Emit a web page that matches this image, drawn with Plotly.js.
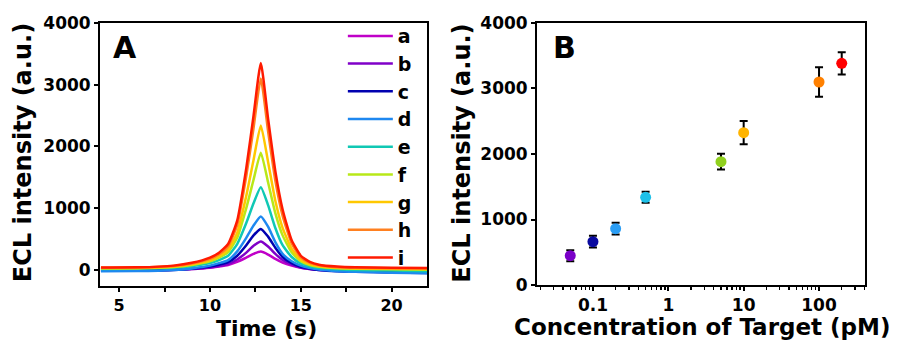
<!DOCTYPE html>
<html><head><meta charset="utf-8">
<script src="https://cdn.plot.ly/plotly-3.0.1.min.js"></script>
<style>html,body{margin:0;padding:0;background:#fff}#chart{width:907px;height:341px}</style>
</head><body><div id="chart"></div>
<script>
// Panel A: ECL-time curves
const time = [4, 6, 8, 9, 10, 10.5, 11, 11.5, 12, 12.4, 12.8, 13.2, 13.6, 14, 14.5, 15, 15.5, 16, 17, 18, 20, 22];
const curveLabels = ['a','b','c','d','e','f','g','h','i'];
const curveA = [-5, -5, 5, 15, 35, 55, 80, 130, 200, 260, 297, 250, 180, 120, 70, 35, 15, 5, -10, -20, -30, -40];
const curveB = [-10, -8, 2, 15, 40, 65, 95, 170, 280, 390, 460, 380, 260, 160, 85, 40, 15, 0, -15, -25, -35, -45];
const curveC = [-15, -12, 0, 20, 55, 85, 125, 230, 400, 560, 665, 540, 360, 210, 110, 50, 20, 0, -20, -30, -40, -50];
const curveD = [-20, -18, 0, 25, 70, 110, 160, 300, 520, 720, 865, 700, 450, 260, 140, 70, 30, 5, -20, -30, -45, -55];
const curveE = [15, 18, 35, 60, 110, 160, 230, 420, 760, 1080, 1340, 1050, 680, 400, 210, 105, 55, 30, 10, 0, -10, -20];
const curveF = [25, 28, 48, 80, 140, 200, 290, 520, 1000, 1460, 1900, 1420, 920, 560, 285, 140, 80, 50, 28, 18, 10, 5];
const curveG = [30, 33, 55, 90, 160, 225, 330, 600, 1200, 1780, 2340, 1750, 1120, 680, 340, 165, 95, 60, 35, 25, 18, 15];
const curveH = [35, 38, 62, 105, 180, 255, 380, 730, 1520, 2300, 3100, 2250, 1450, 880, 430, 205, 115, 75, 45, 35, 28, 25];
const curveI = [40, 42, 70, 115, 200, 280, 420, 800, 1650, 2500, 3350, 2450, 1600, 980, 480, 230, 130, 85, 55, 42, 35, 32];
const curveColors = ['#c000c8','#8000c8','#0000b0','#1e88f0','#10c8b4','#b8e818','#ffc800','#ff8020','#ff1a00'];

// Panel B: calibration points
const concentration = [0.05, 0.1, 0.2, 0.5, 5, 10, 100, 200];
const intensity = [447, 661, 860, 1339, 1883, 2325, 3099, 3384];
const intensityErr = [85, 90, 90, 85, 120, 178, 225, 170];
const pointColors = ['#7a00c8','#0a0aa0','#2a9df4','#1ec0e8','#90d01e','#ffb400','#ff8000','#ff0000'];
const xTickVals = [0.1, 1, 10, 100];
const xTickText = ['0.1', '1', '10', '100'];

const curves = [curveA, curveB, curveC, curveD, curveE, curveF, curveG, curveH, curveI];
const traces = curves.map((ys, k) => ({
  type: 'scatter', mode: 'lines', x: time, y: ys, name: curveLabels[k],
  line: {color: curveColors[k], width: 2.5, shape: 'spline', smoothing: 0.5},
  xaxis: 'x', yaxis: 'y'
}));
traces.push({
  type: 'scatter', mode: 'markers', x: concentration, y: intensity, showlegend: false,
  marker: {color: pointColors, size: 11},
  error_y: {type: 'data', array: intensityErr, visible: true, color: '#000', thickness: 2, width: 4},
  xaxis: 'x2', yaxis: 'y2'
});

const fontFam = '"DejaVu Sans", sans-serif';
const axCommon = {
  showline: true, linecolor: '#000', linewidth: 2, mirror: true,
  ticks: 'outside', ticklen: 4, tickwidth: 2, tickcolor: '#000',
  showgrid: false, zeroline: false,
  tickfont: {family: fontFam, size: 17, color: '#000', weight: 'bold'}
};
const titleFont = {family: fontFam, size: 24, color: '#000', weight: 'bold'};
const xTitleFont = {family: fontFam, size: 23, color: '#000', weight: 'bold'};
const timeTitleFont = {family: fontFam, size: 22, color: '#000', weight: 'bold'};
const layout = {
  width: 907, height: 341,
  margin: {l: 0, r: 0, t: 0, b: 0},
  paper_bgcolor: '#fff', plot_bgcolor: '#fff',
  font: {family: fontFam, color: '#000', weight: 'bold'},
  showlegend: true,
  legend: {x: 0.378, y: 0.95, xanchor: 'left', yanchor: 'top', bgcolor: 'rgba(0,0,0,0)',
    itemwidth: 45,
    font: {family: fontFam, size: 19, color: '#000', weight: 'bold'}, traceorder: 'normal'},
  xaxis: Object.assign({}, axCommon, {
    domain: [0.1103, 0.4708], range: [3.95, 21.95], tick0: 0, dtick: 5,
    tickfont: {family: fontFam, size: 16, color: '#000', weight: 'bold'},
    minor: {dtick: 2.5, ticks: 'outside', ticklen: 4, tickwidth: 2, tickcolor: '#000'},
    anchor: 'y'
  }),
  yaxis: Object.assign({}, axCommon, {
    domain: [0.1613, 0.9326], range: [-260, 4000], tick0: 0, dtick: 1000,
    anchor: 'x'
  }),
  xaxis2: Object.assign({}, axCommon, {
    type: 'log', domain: [0.5921, 0.9537], range: [-1.742, 2.61],
    tickvals: xTickVals, ticktext: xTickText,
    minor: {dtick: 'D1', ticks: 'outside', ticklen: 3, tickwidth: 1.5, tickcolor: '#000'},
    anchor: 'y2'
  }),
  yaxis2: Object.assign({}, axCommon, {
    domain: [0.1642, 0.9326], range: [0, 4000], tick0: 0, dtick: 1000,
    anchor: 'x2'
  }),
  annotations: [
    {text: 'A', xref: 'paper', yref: 'paper', x: 0.122, y: 0.862, xanchor: 'left', yanchor: 'middle', showarrow: false,
     font: {family: fontFam, size: 30, color: '#000', weight: 'bold'}},
    {text: 'B', xref: 'paper', yref: 'paper', x: 0.608, y: 0.862, xanchor: 'left', yanchor: 'middle', showarrow: false,
     font: {family: fontFam, size: 30, color: '#000', weight: 'bold'}},
    {text: 'Time (s)', xref: 'paper', yref: 'paper', x: 0.2935, y: 0.0372, xanchor: 'center', yanchor: 'middle', showarrow: false, font: timeTitleFont},
    {text: 'Concentration of Target (pM)', xref: 'paper', yref: 'paper', x: 0.7745, y: 0.041, xanchor: 'center', yanchor: 'middle', showarrow: false, font: xTitleFont},
    {text: 'ECL intensity (a.u.)', xref: 'paper', yref: 'paper', x: 0.0254, y: 0.551, xanchor: 'center', yanchor: 'middle', textangle: -90, showarrow: false, font: titleFont},
    {text: 'ECL intensity (a.u.)', xref: 'paper', yref: 'paper', x: 0.51, y: 0.551, xanchor: 'center', yanchor: 'middle', textangle: -90, showarrow: false, font: titleFont}
  ]
};
Plotly.newPlot('chart', traces, layout, {displayModeBar: false, staticPlot: true});
</script>
</body></html>
